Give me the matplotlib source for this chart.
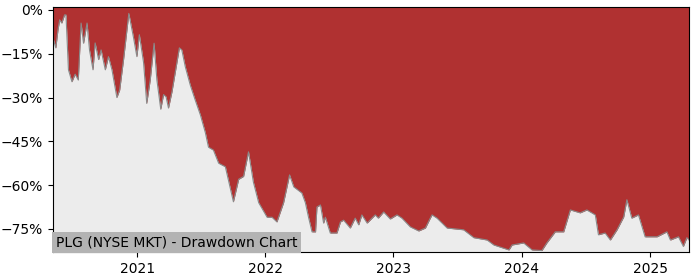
import matplotlib
matplotlib.use("Agg")
import matplotlib.pyplot as plt
import matplotlib.dates as mdates
from matplotlib.ticker import FuncFormatter
import pandas as pd

dates = [
    "2020-05-06", "2020-05-14", "2020-05-20", "2020-05-25", "2020-05-31", "2020-06-08", "2020-06-12",
    "2020-06-19", "2020-06-29", "2020-07-08", "2020-07-17", "2020-07-25", "2020-08-01", "2020-08-11",
    "2020-08-18", "2020-08-28", "2020-09-03", "2020-09-13", "2020-09-20", "2020-10-02", "2020-10-11",
    "2020-10-21", "2020-11-04", "2020-11-12", "2020-11-23", "2020-12-08", "2020-12-21", "2020-12-31",
    "2021-01-07", "2021-01-19", "2021-01-28", "2021-02-07", "2021-02-18", "2021-02-26", "2021-03-09",
    "2021-03-17", "2021-03-24", "2021-03-31", "2021-04-10", "2021-04-19", "2021-05-01", "2021-05-08",
    "2021-05-18", "2021-06-01", "2021-06-15", "2021-06-30", "2021-07-14", "2021-07-23", "2021-08-06",
    "2021-08-21", "2021-09-09", "2021-10-02", "2021-10-17", "2021-10-31", "2021-11-14", "2021-11-28",
    "2021-12-13", "2022-01-06", "2022-01-20", "2022-02-03", "2022-02-22", "2022-03-11", "2022-03-23",
    "2022-04-15", "2022-04-25", "2022-05-04", "2022-05-14", "2022-05-24", "2022-05-28", "2022-06-07",
    "2022-06-16", "2022-06-21", "2022-07-05", "2022-07-24", "2022-08-03", "2022-08-12", "2022-08-31",
    "2022-09-14", "2022-09-24", "2022-10-03", "2022-10-18", "2022-11-10", "2022-11-19", "2022-12-04",
    "2022-12-23", "2023-01-11", "2023-01-25", "2023-02-18", "2023-03-14", "2023-04-02", "2023-04-16",
    "2023-04-21", "2023-05-05", "2023-06-03",
    "2023-07-20", "2023-08-18", "2023-09-25", "2023-10-14", "2023-11-26", "2023-12-05", "2024-01-07",
    "2024-01-31", "2024-02-28", "2024-03-13", "2024-04-06", "2024-04-30", "2024-05-19", "2024-06-16",
    "2024-07-05", "2024-07-29", "2024-08-07", "2024-08-26", "2024-09-10", "2024-09-29", "2024-10-18",
    "2024-10-27", "2024-11-10", "2024-11-29", "2024-12-18", "2025-01-21", "2025-02-18", "2025-02-28",
    "2025-03-23", "2025-04-06", "2025-04-16", "2025-04-22",
]
drawdown = [
    -9.6, -13.0, -7.0, -3.4, -4.5, -1.7, -1.7,
    -20.5, -24.6, -22.0, -24.0, -4.5, -11.4, -4.5,
    -13.7, -20.5, -11.3, -17.0, -13.7, -20.5, -16.0,
    -20.5, -30.0, -27.4, -17.0, -1.2, -9.2, -16.0,
    -8.5, -18.0, -32.0, -24.0, -11.4, -24.0, -34.0,
    -29.0, -29.7, -33.6, -28.0, -21.6, -13.0, -13.7,
    -19.5, -25.7, -30.8, -36.0, -42.0, -47.0, -48.0,
    -52.5, -53.7, -65.7, -58.0, -57.0, -48.6, -59.0,
    -66.0, -71.0, -71.0, -72.6, -66.0, -56.5, -60.6,
    -62.7, -66.0, -71.0, -76.0, -76.0, -67.5, -66.8,
    -73.0, -71.0, -76.4, -76.4, -72.6, -72.0, -74.7,
    -71.3, -73.6, -70.2, -73.0, -70.2, -71.3, -69.2,
    -71.6, -70.2, -71.3, -74.3, -75.7, -74.7, -71.3,
    -70.2, -71.3, -74.7,
    -75.3, -78.0, -78.8, -80.5, -82.2, -80.5, -79.8,
    -82.2, -82.4, -79.8, -76.0, -76.0, -68.5, -69.5,
    -68.5, -70.2, -77.0, -76.4, -78.8, -75.3, -70.9,
    -65.0, -71.3, -70.2, -77.7, -77.7, -76.0, -78.8,
    -77.7, -81.0, -78.0, -78.8,
]
yticks = [0, -15, -30, -45, -60, -75]
title = "PLG (NYSE MKT) - Drawdown Chart"

x = pd.to_datetime(dates)
ymin, ymax = -82.9, 1.0

fig = plt.figure(figsize=(7, 2.8), dpi=100)
ax = fig.add_axes([53 / 700, 28 / 280, 636 / 700, 245 / 280])
ax.set_facecolor("#b03131")
ax.fill_between(x, drawdown, ymin, color="#ececec", linewidth=0, zorder=1)
ax.plot(x, drawdown, color="#8a8a8a", linewidth=0.8, zorder=2)
ax.set_xlim(x[0], x[-1])
ax.set_ylim(ymin, ymax)
ax.set_yticks(yticks)
ax.yaxis.set_major_formatter(FuncFormatter(lambda v, p: f"{v:.0f}%".replace("-", "\u2212")))
ax.xaxis.set_major_locator(mdates.YearLocator())
ax.xaxis.set_major_formatter(mdates.DateFormatter("%Y"))
ax.text(0.004, 0.012, title, transform=ax.transAxes, fontsize=10, ha="left", va="bottom",
        bbox=dict(facecolor="#b3b3b3", edgecolor="none", pad=2.5), zorder=5)
fig.savefig("out.png", dpi=100)
